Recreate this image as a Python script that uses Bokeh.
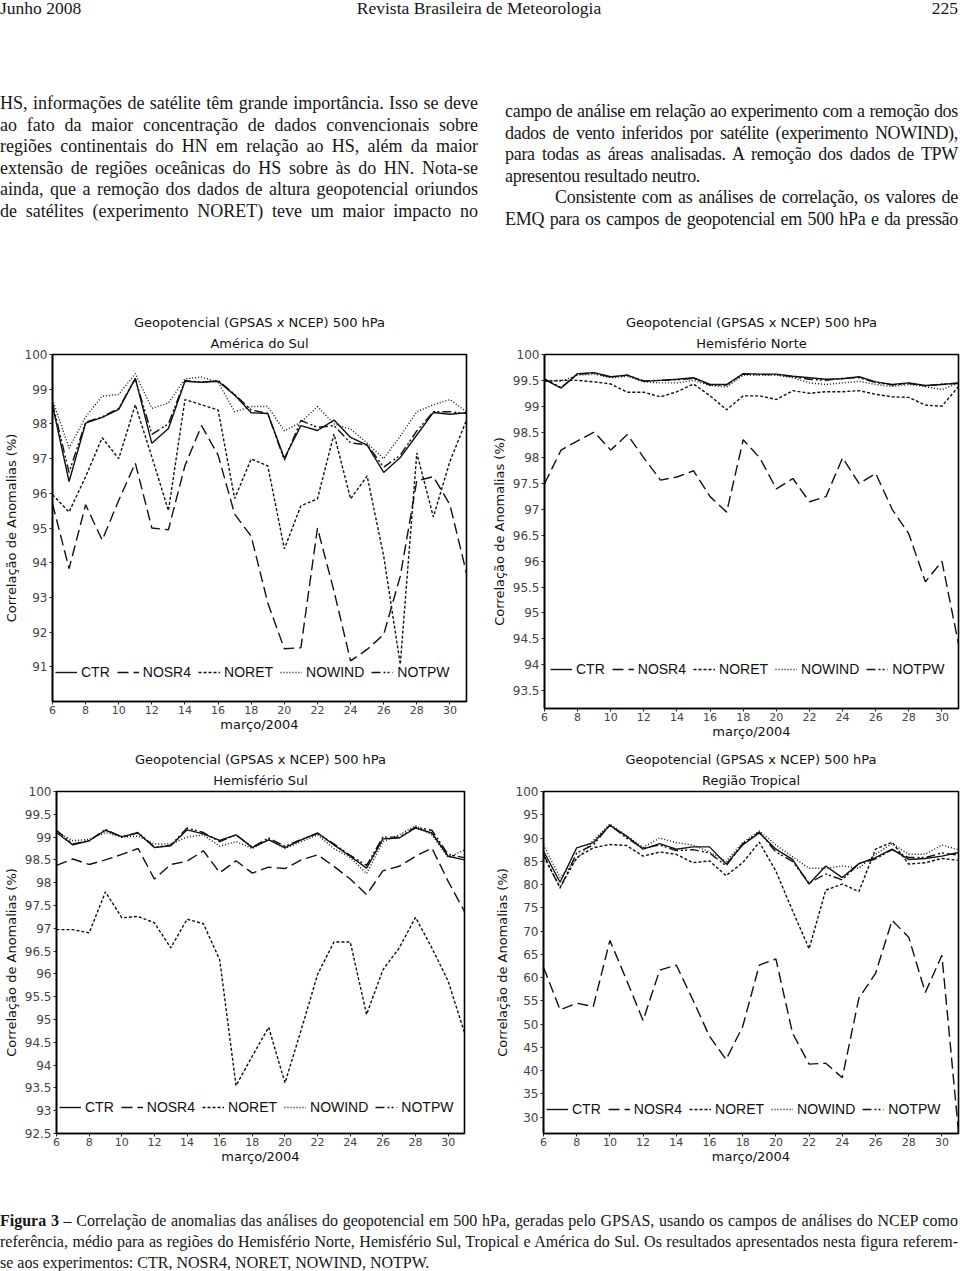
from bokeh.plotting import figure
from bokeh.models import Div, Title, Legend, LegendItem, FixedTicker, Range1d, NumeralTickFormatter
from bokeh.layouts import column, row
from bokeh.embed import file_html
from bokeh.resources import INLINE

# ---------------- data ----------------
days = [6, 7, 8, 9, 10, 11, 12, 13, 14, 15, 16, 17, 18, 19, 20, 21, 22, 23, 24, 25, 26, 27, 28, 29, 30, 31]
x_ticks = [6, 8, 10, 12, 14, 16, 18, 20, 22, 24, 26, 28, 30]
series = ["CTR", "NOSR4", "NORET", "NOWIND", "NOTPW"]

# América do Sul
as_ctr = [98.54, 96.34, 98.02, 98.19, 98.42, 99.31, 97.44, 97.87, 99.23, 99.2, 99.23, 98.83, 98.32,
          98.30, 97.01, 97.95, 97.81, 98.11, 97.61, 97.39, 96.6, 97.03, 97.68, 98.33, 98.28, 98.32]
as_nosr4 = [95.7, 93.83, 95.67, 94.65, 95.8, 96.87, 95.0, 94.95, 96.8, 97.95, 97.1, 95.4, 94.76,
            92.84, 91.52, 91.55, 95.0, 93.18, 91.17, 91.5, 91.93, 93.61, 96.36, 96.48, 95.67, 93.7]
as_noret = [95.96, 95.46, 96.48, 97.6, 97.0, 98.55, 97.05, 95.5, 98.7, 98.55, 98.4, 95.85, 96.99,
            96.79, 94.4, 95.64, 95.84, 97.71, 95.84, 96.5, 94.19, 91.07, 97.16, 95.32, 96.92, 98.11]
as_nowind = [98.7, 97.3, 98.2, 98.8, 98.85, 99.45, 98.45, 98.6, 99.3, 99.35, 99.2, 98.35, 98.5,
             98.5, 97.8, 98.05, 98.5, 98.0, 97.85, 97.45, 97.0, 97.65, 98.35, 98.55, 98.7, 98.35]
as_notpw = [98.6, 96.6, 98.05, 98.2, 98.45, 99.3, 97.7, 98.0, 99.25, 99.2, 99.25, 98.85, 98.4,
            98.3, 96.95, 98.1, 97.9, 97.95, 97.45, 97.4, 96.75, 97.1, 97.8, 98.35, 98.35, 98.3]

# Hemisfério Norte
hn_ctr = [99.52, 99.35, 99.63, 99.65, 99.57, 99.6, 99.48, 99.5, 99.52, 99.55, 99.42, 99.42, 99.63,
          99.62, 99.62, 99.58, 99.55, 99.52, 99.53, 99.57, 99.47, 99.42, 99.45, 99.4, 99.42, 99.45]
hn_nosr4 = [97.5, 98.15, 98.33, 98.5, 98.15, 98.45, 98.0, 97.57, 97.63, 97.75, 97.25, 96.95, 98.35,
            98.0, 97.4, 97.6, 97.15, 97.25, 98.0, 97.5, 97.7, 97.0, 96.53, 95.6, 96.0, 94.4]
hn_noret = [99.48, 99.5, 99.5, 99.47, 99.43, 99.27, 99.27, 99.18, 99.28, 99.43, 99.2, 98.93, 99.2,
            99.2, 99.13, 99.3, 99.25, 99.28, 99.28, 99.3, 99.23, 99.18, 99.17, 99.02, 99.0, 99.38]
hn_nowind = [99.5, 99.48, 99.6, 99.62, 99.55, 99.58, 99.47, 99.45, 99.45, 99.5, 99.4, 99.37, 99.6,
             99.6, 99.6, 99.55, 99.45, 99.42, 99.45, 99.48, 99.42, 99.38, 99.42, 99.38, 99.32, 99.45]
hn_notpw = [99.53, 99.36, 99.62, 99.64, 99.56, 99.6, 99.49, 99.5, 99.51, 99.54, 99.41, 99.41, 99.62,
            99.61, 99.61, 99.57, 99.52, 99.5, 99.54, 99.55, 99.46, 99.41, 99.44, 99.39, 99.43, 99.44]

# Hemisfério Sul
hs_ctr = [99.1, 98.83, 98.92, 99.15, 99.01, 99.09, 98.77, 98.81, 99.16, 99.07, 98.93, 99.05, 98.77,
          98.94, 98.77, 98.94, 99.09, 98.83, 98.58, 98.32, 98.96, 98.98, 99.2, 99.09, 98.58, 98.5]
hs_nosr4 = [98.38, 98.52, 98.4, 98.5, 98.62, 98.75, 98.08, 98.4, 98.47, 98.7, 98.22, 98.48, 98.21,
            98.34, 98.31, 98.5, 98.61, 98.36, 98.08, 97.74, 98.26, 98.36, 98.58, 98.76, 98.03, 97.37]
hs_noret = [96.97, 96.97, 96.9, 97.8, 97.23, 97.26, 97.12, 96.57, 97.2, 97.1, 96.31, 93.55, 94.2,
            94.83, 93.61, 94.78, 95.99, 96.7, 96.7, 95.11, 96.09, 96.57, 97.24, 96.57, 95.84, 94.71]
hs_nowind = [99.12, 98.92, 98.95, 99.1, 99.0, 99.02, 98.85, 98.85, 99.0, 99.05, 98.8, 98.9, 98.75,
             98.95, 98.75, 98.9, 99.05, 98.75, 98.55, 98.2, 98.9, 99.05, 99.25, 99.05, 98.55, 98.72]
hs_notpw = [99.15, 98.85, 98.92, 99.17, 99.0, 99.1, 98.78, 98.82, 99.2, 99.1, 98.9, 99.05, 98.78,
            98.98, 98.8, 98.95, 99.08, 98.85, 98.6, 98.38, 99.0, 99.0, 99.22, 99.15, 98.62, 98.55]

# Região Tropical
tr_ctr = [87.2, 80.5, 87.9, 89.0, 92.75, 90.4, 87.6, 88.8, 87.6, 88.1, 88.1, 84.4, 88.5,
          91.1, 87.6, 85.4, 80.1, 84.0, 81.5, 84.5, 85.8, 87.6, 85.4, 85.6, 86.1, 86.9]
tr_nosr4 = [62.2, 53.1, 54.5, 53.8, 68.0, 59.5, 50.8, 61.6, 62.7, 55.2, 47.4, 42.4, 49.5,
            62.7, 64.0, 48.1, 41.4, 41.6, 38.5, 55.6, 60.9, 72.3, 68.7, 56.8, 64.8, 26.8]
tr_noret = [86.1, 79.4, 85.8, 87.9, 88.6, 88.4, 86.1, 87.0, 86.5, 84.7, 85.1, 81.9, 84.7,
            89.1, 82.9, 74.4, 66.2, 78.8, 80.1, 78.5, 87.6, 89.1, 84.4, 84.7, 85.6, 85.2]
tr_nowind = [88.5, 81.5, 85.5, 89.5, 93.0, 90.5, 88.0, 90.0, 89.0, 88.5, 87.0, 85.0, 89.0,
             91.5, 88.5, 86.0, 83.5, 83.5, 84.0, 83.5, 86.5, 88.8, 86.5, 86.5, 88.5, 87.5]
tr_notpw = [86.5, 79.2, 86.8, 88.5, 92.8, 90.0, 87.8, 88.5, 87.3, 87.5, 86.8, 84.0, 88.8,
            91.3, 87.0, 85.0, 80.3, 82.3, 81.0, 84.5, 85.5, 87.5, 85.8, 85.8, 86.8, 86.3]

yticks_as = [91, 92, 93, 94, 95, 96, 97, 98, 99, 100]
yticks_hn = [93.5, 94, 94.5, 95, 95.5, 96, 96.5, 97, 97.5, 98, 98.5, 99, 99.5, 100]
yticks_hs = [92.5, 93, 93.5, 94, 94.5, 95, 95.5, 96, 96.5, 97, 97.5, 98, 98.5, 99, 99.5, 100]
yticks_tr = [30, 35, 40, 45, 50, 55, 60, 65, 70, 75, 80, 85, 90, 95, 100]

main_title = "Geopotencial (GPSAS x NCEP) 500 hPa"
x_label = "março/2004"
y_label = "Correlação de Anomalias (%)"

# ---------------- styling ----------------
DASH = {"CTR": "solid", "NOSR4": "11 5", "NORET": "3 2", "NOWIND": "1 2", "NOTPW": "9 3 2 2 2 3"}
CFONT = "DejaVu Sans"


def make_chart(region, values, y0, y1, yticks, width, height, bl, br, bt, bb, leg_x, leg_y):
    p = figure(width=width, height=height, x_range=Range1d(6, 31), y_range=Range1d(y0, y1),
               output_backend="svg", toolbar_location=None, title_location=None,
               min_border_left=bl, min_border_right=br, min_border_top=bt, min_border_bottom=bb)
    p.background_fill_color = "white"
    p.border_fill_color = "white"
    p.xgrid.grid_line_color = None
    p.ygrid.grid_line_color = None
    p.outline_line_color = "black"
    p.outline_line_width = 1.6
    p.outline_line_alpha = 1.0
    items = []
    for name, vals in zip(series, values):
        r = p.line(days, vals, line_color="#111111", line_width=1.4, line_dash=DASH[name])
        items.append(LegendItem(label=name, renderers=[r]))
    leg = Legend(items=items, orientation="horizontal", location=(leg_x, leg_y),
                 label_text_font="Liberation Sans", label_text_font_size="14px",
                 label_text_color="#111111", glyph_width=22, glyph_height=14,
                 label_standoff=4, spacing=7, padding=1, margin=0,
                 background_fill_alpha=0, border_line_color=None,
                 label_height=14, label_width=10)
    p.add_layout(leg)
    p.add_layout(Title(text=region, align="center", text_font=CFONT, text_font_size="13px",
                       text_font_style="normal", text_color="#111111", standoff=8), "above")
    p.add_layout(Title(text=main_title, align="center", text_font=CFONT, text_font_size="13px",
                       text_font_style="normal", text_color="#111111", standoff=0), "above")
    ax = p.xaxis[0]
    ax.ticker = FixedTicker(ticks=x_ticks)
    ax.axis_label = x_label
    ay = p.yaxis[0]
    ay.ticker = FixedTicker(ticks=yticks)
    ay.formatter = NumeralTickFormatter(format="0.[0]")
    ay.axis_label = y_label
    for a in (ax, ay):
        a.axis_line_color = "black"
        a.axis_line_width = 1.6
        a.major_tick_line_color = "#222222"
        a.major_tick_out = 3
        a.major_tick_in = 0
        a.minor_tick_line_color = None
        a.major_label_text_font = CFONT
        a.major_label_text_color = "#444444"
        a.axis_label_text_font = CFONT
        a.axis_label_text_font_style = "normal"
        a.axis_label_text_color = "#111111"
        a.axis_label_text_font_size = "13px"
    ax.major_label_text_font_size = "11px"
    ax.major_label_standoff = 1
    ax.axis_label_standoff = 0
    ay.major_label_text_font_size = "12px"
    ay.major_label_standoff = 2
    ay.axis_label_standoff = 3
    return p


p_as = make_chart("América do Sul", [as_ctr, as_nosr4, as_noret, as_nowind, as_notpw],
                  90, 100, yticks_as, 480, 442, 52, 14, 54, 41, 3, 21)
p_hn = make_chart("Hemisfério Norte", [hn_ctr, hn_nosr4, hn_noret, hn_nowind, hn_notpw],
                  93.15, 100, yticks_hn, 480, 449, 64, 2, 53, 41, 6, 31)
p_hs = make_chart("Hemisfério Sul", [hs_ctr, hs_nosr4, hs_noret, hs_nowind, hs_notpw],
                  92.5, 100, yticks_hs, 480, 438, 53, 16, 40, 54, 3, 18)
p_tr = make_chart("Região Tropical", [tr_ctr, tr_nosr4, tr_noret, tr_nowind, tr_notpw],
                  26.5, 100, yticks_tr, 480, 438, 63, 2, 40, 51, 3, 16)

# ---------------- text ----------------
left_lines = [
    "HS, informações de satélite têm grande importância. Isso se deve",
    "ao fato da maior concentração de dados convencionais sobre",
    "regiões continentais do HN em relação ao HS, além da maior",
    "extensão de regiões oceânicas do HS sobre às do HN. Nota-se",
    "ainda, que a remoção dos dados de altura geopotencial oriundos",
    "de satélites (experimento NORET) teve um maior impacto no",
]
right_lines = [
    ("campo de análise em relação ao experimento com a remoção dos", True, 0),
    ("dados de vento inferidos por satélite (experimento NOWIND),", True, 0),
    ("para todas as áreas analisadas. A remoção dos dados de TPW", True, 0),
    ("apresentou resultado neutro.", False, 0),
    ("Consistente com as análises de correlação, os valores de", True, 50),
    ("EMQ para os campos de geopotencial em 500 hPa e da pressão", True, 0),
]
caption_lines = [
    ("<b>Figura 3</b> – Correlação de anomalias das análises do geopotencial em 500 hPa, geradas pelo GPSAS, usando os campos de análises do NCEP como", True),
    ("referência, médio para as regiões do Hemisfério Norte, Hemisfério Sul, Tropical e América do Sul. Os resultados apresentados nesta figura referem-", True),
    ("se aos experimentos: CTR, NOSR4, NORET, NOWIND, NOTPW.", False),
]

JUST = "text-align:justify;text-align-last:justify;white-space:nowrap;"
LEFT = "text-align:left;white-space:nowrap;"

lh = 21.6
left_html = "".join(f'<div style="{JUST}height:{lh}px">{t}</div>' for t in left_lines)
right_html = "".join(
    f'<div style="{JUST if j else LEFT}height:{lh}px;padding-left:{ind}px">{t}</div>'
    for t, j, ind in right_lines)

top_html = f'''
<div style="position:relative;width:960px;height:300px;font-family:'Liberation Serif',serif;color:#161616;">
  <div style="position:absolute;left:0px;top:0px;width:960px;height:20px;font-size:17.5px;line-height:17px;">
    <span style="position:absolute;left:0px;top:0px;">Junho 2008</span>
    <span style="position:absolute;left:0px;top:0px;width:958px;text-align:center;">Revista Brasileira de Meteorologia</span>
    <span style="position:absolute;right:2px;top:0px;">225</span>
  </div>
  <div style="position:absolute;left:0px;top:93px;width:478px;font-size:18px;line-height:{lh}px;">{left_html}</div>
  <div style="position:absolute;left:505px;top:101px;width:453px;font-size:18px;letter-spacing:-0.3px;line-height:{lh}px;">{right_html}</div>
</div>
'''

cap_html_lines = "".join(
    f'<div style="{JUST if j else LEFT}height:21px">{t}</div>' for t, j in caption_lines)
cap_html = f'''
<div style="position:relative;width:960px;height:84px;font-family:'Liberation Serif',serif;color:#161616;">
  <div style="position:absolute;left:0px;top:23px;width:958px;font-size:16px;line-height:21px;">{cap_html_lines}</div>
</div>
'''

top_div = Div(text=top_html, width=960, height=300, margin=0)
cap_div = Div(text=cap_html, width=960, height=84, margin=0)

layout = column(top_div, row(p_as, p_hn), row(p_hs, p_tr), cap_div, spacing=0)

open("out.html", "w").write(file_html(layout, INLINE))
